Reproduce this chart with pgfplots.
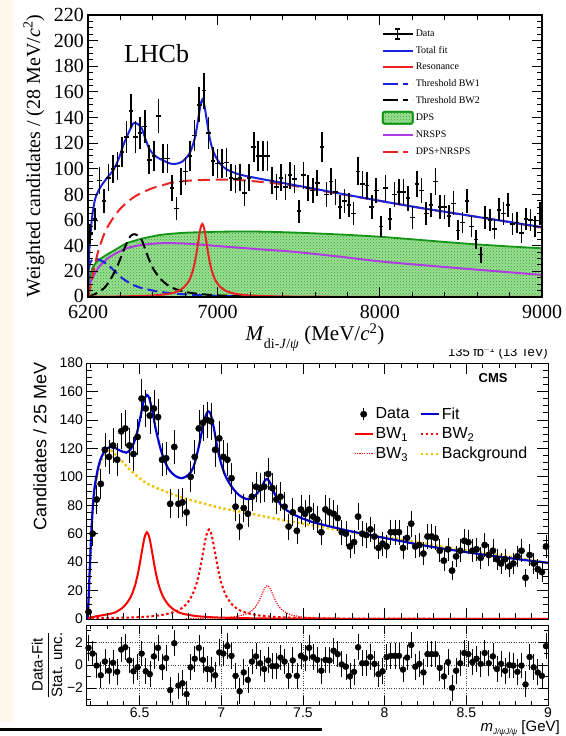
\documentclass[border=0pt]{standalone}
\usepackage{fontspec}
\setmainfont{Liberation Serif}
\newfontfamily\cms{Liberation Sans}
\usepackage{pgfplots}
\pgfplotsset{compat=1.18}
\usepackage{pgfplotstable}
\usetikzlibrary{patterns}
\definecolor{lblue}{RGB}{25,35,225}
\definecolor{lred}{RGB}{235,35,35}
\definecolor{lmag}{RGB}{175,60,225}
\definecolor{dpsline}{RGB}{20,150,20}
\definecolor{dpsfill}{RGB}{155,222,148}
\definecolor{dpsdot}{RGB}{45,165,45}
\definecolor{cblue}{RGB}{0,0,215}
\definecolor{cred}{RGB}{250,0,0}
\definecolor{cyel}{RGB}{240,195,0}
\definecolor{cream}{RGB}{253,248,234}

\pgfplotstableread{
x y e
6214 49 7.7
6242 61 8.6
6270 91 10.5
6298 75 9.5
6326 93 10.6
6354 100 11.0
6382 102 11.1
6410 113 11.7
6438 125 12.3
6466 145 13.2
6494 125 12.3
6522 128 12.4
6550 133 12.7
6578 107 11.4
6606 110 11.5
6634 141 13.1
6662 108 11.4
6690 108 11.4
6718 85 10.1
6746 69 9.1
6774 90 10.4
6802 98 10.9
6830 110 11.5
6858 126 12.3
6886 150 13.5
6914 161 14.0
6942 128 12.4
6970 106 11.3
6998 104 11.2
7026 104 11.2
7054 105 11.3
7082 93 10.6
7110 92 10.6
7138 93 10.6
7166 81 9.9
7194 93 10.6
7222 117 11.9
7250 110 11.5
7278 110 11.5
7306 110 11.5
7334 91 10.5
7362 86 10.2
7390 93 10.6
7418 86 10.2
7446 95 10.7
7474 92 10.6
7502 67 9.0
7530 95 10.7
7558 85 10.1
7586 83 10.0
7614 89 10.4
7642 117 11.9
7670 80 9.8
7698 90 10.4
7726 82 10.0
7754 70 9.2
7782 75 9.5
7810 72 9.3
7838 65 8.9
7866 98 10.9
7894 88 10.3
7922 87 10.3
7950 70 9.2
7978 83 10.0
8006 55 8.2
8034 85 10.1
8062 61 8.6
8090 80 9.8
8118 82 10.0
8146 82 10.0
8174 77 9.7
8202 62 8.7
8230 88 10.3
8258 83 10.0
8286 65 8.9
8314 72 9.3
8342 90 10.4
8370 70 9.2
8398 70 9.2
8426 63 8.7
8454 73 9.4
8482 52 7.9
8510 58 8.4
8538 75 9.5
8566 55 8.2
8594 45 7.4
8622 33 6.3
8650 62 8.7
8678 60 8.5
8706 53 8.0
8734 68 9.1
8762 65 8.9
8790 72 9.3
8818 57 8.3
8846 58 8.4
8874 50 7.8
8902 61 8.6
8930 60 8.5
8958 55 8.2
8986 65 8.9
}\lhcbdata

\pgfplotstableread{
x y
6200 0
6204 8
6212 16
6225 22
6250 27
6290 31
6336 34.5
6390 38.5
6439 42
6490 44
6541 45.8
6644 48.4
6747 49.7
6850 50.4
7055 51
7261 51
7465 50.3
7750 48.8
8000 47
8250 44.5
8494 42
8750 39.8
9000 38
}\dps

\pgfplotstableread{
x y e r
6.1875 5 2.2 1.5
6.2125 60 7.7 1.0
6.2375 84 9.2 -0.05
6.2625 95 9.7 -0.9
6.2875 119 10.9 0.3
6.3125 114 10.7 -0.5
6.3375 122 11.0 0.2
6.3625 112 10.6 -0.6
6.3875 132 11.5 1.35
6.4125 134 11.6 1.55
6.4375 122 11.0 0.4
6.4625 116 10.8 -0.55
6.4875 128 11.3 -0.2
6.5125 155 12.4 1.0
6.5375 148 12.2 -0.55
6.5625 143 12.0 -0.8
6.5875 148 12.2 0.75
6.6125 142 11.9 1.5
6.6375 112 10.6 -0.2
6.6625 113 10.6 0.6
6.6875 81 9.0 -2.2
6.7125 121 11.0 1.9
6.7375 81 9.0 -1.8
6.7625 82 9.1 -1.6
6.7875 75 8.7 -2.55
6.8125 100 10.0 -0.2
6.8375 114 10.7 0.55
6.8625 134 11.6 1.5
6.8875 138 11.7 0.45
6.9125 140 11.8 -0.35
6.9375 139 11.8 -0.4
6.9625 119 10.9 -0.9
6.9875 127 11.3 1.1
7.0125 114 10.7 1.0
7.0375 112 10.6 1.65
7.0625 99 9.9 0.8
7.0875 79 8.9 -0.95
7.1125 65 8.1 -2.3
7.1375 78 8.8 -0.65
7.1625 74 8.6 -1.3
7.1875 86 9.3 0.3
7.2125 93 9.6 0.75
7.2375 92 9.6 0.15
7.2625 93 9.6 -0.35
7.2875 102 10.1 0.4
7.3125 92 9.6 -0.1
7.3375 84 9.2 -0.1
7.3625 86 9.3 0.65
7.3875 79 8.9 0.3
7.4125 65 8.1 -0.95
7.4375 75 8.7 0.4
7.4625 62 7.9 -0.95
7.4875 77 8.8 0.8
7.5125 74 8.6 0.6
7.5375 77 8.8 1.5
7.5625 72 8.5 0.7
7.5875 70 8.4 0.45
7.6125 61 7.8 -0.5
7.6375 77 8.8 0.45
7.6625 75 8.7 0.4
7.6875 74 8.6 1.25
7.7125 71 8.4 0.95
7.7375 61 7.8 0.05
7.7625 60 7.7 -0.15
7.7875 51 7.1 -1.0
7.8125 54 7.3 -0.6
7.8375 72 8.5 1.55
7.8625 60 7.7 0.15
7.8875 59 7.7 0.15
7.9125 63 7.9 0.7
7.9375 58 7.6 0.1
7.9625 50 7.1 -0.8
7.9875 53 7.3 -0.55
8.0125 51 7.1 0.7
8.0375 61 7.8 0.8
8.0625 61 7.8 0.8
8.0875 61 7.8 0.8
8.1125 50 7.1 -0.4
8.1375 57 7.5 0.65
8.1625 67 8.2 1.75
8.1875 51 7.1 -0.15
8.2125 52 7.2 0.1
8.2375 46 6.8 -0.65
8.2625 58 7.6 0.95
8.2875 58 7.6 0.95
8.3125 57 7.5 0.95
8.3375 48 6.9 -0.25
8.3625 41 6.4 -1.0
8.3875 49 7.0 0.25
8.4125 34 5.8 -2.0
8.4375 44 6.6 -0.5
8.4625 48 6.9 0.15
8.4875 55 7.4 1.05
8.5125 54 7.3 0.95
8.5375 48 6.9 0.25
8.5625 49 7.0 0.55
8.5875 43 6.6 0.1
8.6125 52 7.2 1.05
8.6375 45 6.7 0.15
8.6625 48 6.9 0.75
8.6875 42 6.5 -0.35
8.7125 39 6.2 0.1
8.7375 42 6.5 -0.5
8.7625 37 6.1 0.0
8.7875 39 6.2 -0.05
8.8125 44 6.6 -0.6
8.8375 48 6.9 -0.05
8.8625 29 5.4 -1.7
8.8875 45 6.7 0.7
8.9125 39 6.2 -0.2
8.9375 35 5.9 -0.65
8.9625 33 5.7 -0.95
8.9875 51 7.1 1.65
}\cmsdata

\begin{document}
\begin{tikzpicture}
\fill[white] (0,0) rectangle (565pt,736pt);
\useasboundingbox (0,0) rectangle (565pt,736pt);
\fill[cream] (0,14pt) rectangle (13pt,736pt);
\fill[black] (0,5pt) rectangle (322pt,8pt);

% ---------------- LHCb ----------------
\begin{axis}[
  at={(88pt,439pt)}, anchor=south west, scale only axis,
  width=454pt, height=282pt,
  xmin=6200, xmax=9000, ymin=0, ymax=220,
  axis on top, tick align=inside, tick pos=both,
  major tick length=10pt, minor tick length=5pt,
  every tick/.style={black, line width=1pt},
  axis line style={line width=1.3pt},
  xtick={6200,7000,8000,9000}, xticklabels={6200,7000,8000,9000},
  minor xtick={6400,6600,6800,7200,7400,7600,7800,8200,8400,8600,8800},
  ytick={0,20,...,220}, yticklabels={\raisebox{3pt}{0},20,40,60,80,100,120,140,160,180,200,220},
  minor y tick num=3,
  tick label style={font=\fontsize{20}{20}\selectfont},
  xticklabel style={inner sep=1pt, yshift=-7pt},
  yticklabel style={inner sep=1pt, xshift=-3pt},
  xlabel={\textit{M}\raisebox{-0.35em}{\fontsize{14}{14}\selectfont di-\textit{J}/\textit{ψ}} (MeV/\textit{c}\textsuperscript{2})},
  xlabel style={at={(axis description cs:0.5,-0.156)}, anchor=base, inner sep=0pt, font=\fontsize{21}{21}\selectfont},
  ylabel={Weighted candidates / (28 MeV/\textit{c}\textsuperscript{2})},
  ylabel style={at={(axis description cs:-0.119,0.5)}, anchor=center, inner sep=0pt, font=\fontsize{20}{20}\selectfont},
  legend style={at={(axis description cs:0.64,0.962)}, anchor=north west, draw=none, fill=none,
     font=\fontsize{10}{10}\selectfont, row sep=4.3pt},
  legend cell align=left,
  legend image code/.code={\draw[#1] (0pt,0pt) -- (30pt,0pt);},
]
\addlegendimage{legend image code/.code={\draw[black,line width=1.2pt] (0pt,0pt)--(30pt,0pt) (15pt,-5pt)--(15pt,5pt) (12.5pt,-5pt)--(17.5pt,-5pt) (12.5pt,5pt)--(17.5pt,5pt);}}
\addlegendentry{Data}
\addlegendimage{lblue, line width=2pt}
\addlegendentry{Total fit}
\addlegendimage{lred, line width=2pt}
\addlegendentry{Resonance}
\addlegendimage{lblue, line width=2pt, dash pattern=on 15pt off 5pt on 5pt off 5pt}
\addlegendentry{Threshold BW1}
\addlegendimage{black, line width=2pt, dash pattern=on 15pt off 5pt on 5pt off 5pt}
\addlegendentry{Threshold BW2}
\addlegendimage{legend image code/.code={\draw[dpsline, line width=1.8pt, fill=dpsfill, postaction={pattern=crosshatch dots, pattern color=dpsdot}, rounded corners=2pt] (0pt,-6pt) rectangle (30pt,6pt);}}
\addlegendentry{DPS}
\addlegendimage{lmag, line width=2pt}
\addlegendentry{NRSPS}
\addlegendimage{lred, line width=2pt, dash pattern=on 15pt off 5pt on 5pt off 5pt}
\addlegendentry{DPS+NRSPS}

\addplot[draw=none, fill=dpsfill, postaction={pattern=crosshatch dots, pattern color=dpsdot}, forget plot] table[x=x,y=y] {\dps} \closedcycle;
\addplot[dpsline, line width=1.8pt, smooth, forget plot] table[x=x,y=y] {\dps};
\addplot[lmag, line width=2pt, smooth, forget plot] coordinates {
(6200,5) (6210,10) (6223,13.5) (6254,21) (6290,26.5) (6336,31.4) (6390,35.2) (6439,38) (6490,39.7) (6541,40.8) (6644,41.9) (6750,41.9) (6850,41.3) (7055,39.2) (7261,37.2) (7466,35.3) (7750,31.5) (8000,27.8) (8250,25) (8494,22.4) (8750,19.8) (9000,17.2)};
\addplot[lblue, line width=2pt, smooth, dash pattern=on 10pt off 5pt, forget plot] coordinates {
(6200,10) (6205,21) (6215,27) (6233,29.5) (6260,29.5) (6300,27) (6336,23.6) (6370,19.5) (6397,16) (6440,12.2) (6479,9.4) (6530,7) (6582,5.5) (6640,4) (6706,3) (6780,2.2) (6850,1.7) (6950,1.1) (7050,0.7) (7200,0.3) (7400,0.1)};
\addplot[black, line width=2pt, smooth, dash pattern=on 10pt off 5pt, forget plot] coordinates {
(6200,0) (6254,3) (6300,7) (6336,13.3) (6370,21) (6397,29) (6420,36.5) (6439,42) (6462,47.5) (6484,49) (6505,48) (6531,44.5) (6555,36.5) (6582,27.5) (6610,20.5) (6644,14.6) (6685,9.8) (6726,6.8) (6790,4.3) (6850,2.9) (6952,1.6) (7050,1.0) (7200,0.5)};
\addplot[lred, line width=2pt, smooth, forget plot] coordinates {
(6200,0.2) (6405,0.44) (6605,1.2) (6705,2.6) (6755,4.5) (6795,7.9) (6825,13.2) (6845,19.9) (6861,28.5) (6875,38.9) (6885,47.2) (6895,54.2) (6905,57) (6915,54.2) (6925,47.2) (6935,38.9) (6949,28.5) (6965,19.9) (6985,13.2) (7015,7.9) (7055,4.5) (7105,2.6) (7205,1.2) (7405,0.44) (7905,0.11) (9000,0.03)};
\addplot[lred, line width=2pt, smooth, dash pattern=on 12pt off 6pt, forget plot] coordinates {
(6200,0) (6210,5) (6230,18) (6255,32) (6290,46) (6322,55) (6380,66) (6433,73) (6490,78.5) (6544,82) (6600,85) (6655,87) (6710,89) (6766,90) (6850,91) (6990,91.5) (7100,91.5) (7250,90) (7400,88) (7550,85) (7700,81.5) (8000,75) (8250,69.5) (8500,64.5) (8750,59.5) (9000,54)};
\addplot[lblue, line width=2pt, smooth, forget plot] coordinates {
(6200,0) (6203,18) (6207,32) (6212,44) (6225,62) (6243,76) (6265,83) (6294,89) (6325,94) (6356,99) (6390,108) (6418,118.5) (6450,128) (6480,135.5) (6505,135) (6531,131.6) (6555,123) (6582,114.7) (6620,109.5) (6664,106.5) (6710,104) (6747,104) (6780,105.5) (6809,109) (6830,113) (6845,118) (6861,125) (6875,135) (6885,143) (6895,150.5) (6905,154) (6915,151) (6925,144) (6935,136) (6949,125) (6965,116.5) (6985,110) (7015,104) (7055,99.5) (7137,95.5) (7250,92.5) (7400,89) (7550,85.5) (7700,82) (8000,75) (8250,69.5) (8500,64.5) (8750,59.5) (9000,54.5)};
\addplot[draw=none, mark=none, line width=1.6pt, forget plot,
  error bars/.cd, x dir=both, x fixed=14, y dir=both, y explicit, error mark=none,
  error bar style={draw=black, line width=1.6pt}] table[x=x, y=y, y error=e] {\lhcbdata};
\node[font=\fontsize{26}{26}\selectfont, anchor=base west, inner sep=0pt] at (axis description cs:0.079,0.833) {LHCb};
\end{axis}

% ---------------- CMS main ----------------
\begin{axis}[
  at={(86.5pt,117pt)}, anchor=south west, scale only axis,
  width=461.5pt, height=256pt,
  xmin=6.175, xmax=9.0, ymin=0, ymax=180,
  axis on top, tick align=inside, tick pos=both,
  major tick length=11pt, minor tick length=5.5pt,
  every tick/.style={black, line width=0.7pt},
  axis line style={line width=0.9pt},
  xtick={6.5,7,7.5,8,8.5,9}, xticklabels={},
  minor xtick={6.2,6.3,6.4,6.6,6.7,6.8,6.9,7.1,7.2,7.3,7.4,7.6,7.7,7.8,7.9,8.1,8.2,8.3,8.4,8.6,8.7,8.8,8.9},
  ytick={0,20,...,180}, yticklabels={0,20,40,60,80,100,120,140,160,180},
  minor y tick num=3,
  tick label style={font=\cms\fontsize{14}{14}\selectfont},
  ylabel={Candidates / 25 MeV},
  ylabel style={at={(axis description cs:-0.1008,0.674)}, anchor=center, inner sep=0pt, font=\cms\fontsize{18}{18}\selectfont},
  legend columns=2,
  legend style={at={(axis description cs:0.572,0.842)}, anchor=north west, draw=none, fill=none,
     font=\cms\fontsize{16}{16}\selectfont, row sep=3pt, /tikz/every even column/.append style={column sep=8pt}},
  legend cell align=left,
  legend image code/.code={\draw[#1] (0pt,0pt) -- (18pt,0pt);},
]
\addlegendimage{legend image code/.code={\draw[black, line width=0.7pt] (9pt,-6pt)--(9pt,6pt); \fill[black] (9pt,0pt) circle (3.2pt);}}
\addlegendentry{Data}
\addlegendimage{cblue, line width=2.2pt}
\addlegendentry{Fit}
\addlegendimage{cred, line width=2pt}
\addlegendentry{BW\textsubscript{1}}
\addlegendimage{cred, line width=2pt, dash pattern=on 2.5pt off 2.5pt}
\addlegendentry{BW\textsubscript{2}}
\addlegendimage{cred, line width=1.1pt, dash pattern=on 1.2pt off 1.2pt}
\addlegendentry{BW\textsubscript{3}}
\addlegendimage{cyel, line width=2.4pt, dash pattern=on 2.5pt off 2.5pt}
\addlegendentry{Background}

\addplot[cyel, line width=2.4pt, smooth, dash pattern=on 2.5pt off 2.5pt, forget plot] coordinates {
(6.175,0) (6.185,5) (6.195,30) (6.205,60) (6.22,85) (6.24,100) (6.26,110) (6.28,115) (6.30,118) (6.32,119) (6.35,116) (6.40,110) (6.44,105) (6.5,99) (6.55,95) (6.65,90) (6.77,85) (6.9,81) (7.0,78) (7.18,74) (7.4,69) (7.6,65) (7.85,60) (8.1,56) (8.4,50) (8.7,45) (9.0,39.5)};
\addplot[cred, line width=2pt, smooth, forget plot] coordinates {
(6.175,0) (6.19,0.8) (6.245,2.1) (6.345,4.4) (6.405,8.9) (6.445,15.4) (6.47,22.8) (6.487,30.5) (6.5,38.1) (6.515,48.1) (6.53,57.2) (6.545,61) (6.56,57.2) (6.575,48.1) (6.59,38.1) (6.603,30.5) (6.62,22.8) (6.645,15.4) (6.685,8.9) (6.745,4.4) (6.845,2.1) (6.995,0.98) (7.245,0.41) (7.545,0.2) (9.0,0.05)};
\addplot[cred, line width=2pt, smooth, dash pattern=on 2.5pt off 2.5pt, forget plot] coordinates {
(6.175,0) (6.225,0.49) (6.475,1.17) (6.625,2.6) (6.725,5.5) (6.78,9.7) (6.82,16.3) (6.845,23.6) (6.863,31.5) (6.88,41.3) (6.895,51.1) (6.91,59.5) (6.925,63) (6.94,59.5) (6.955,51.1) (6.97,41.3) (6.987,31.5) (7.005,23.6) (7.03,16.3) (7.07,9.7) (7.125,5.5) (7.225,2.6) (7.375,1.17) (7.625,0.49) (7.925,0.24) (9.0,0.08)};
\addplot[cred, line width=1.1pt, smooth, dash pattern=on 1.2pt off 1.2pt, forget plot] coordinates {
(6.782,0.28) (6.982,0.76) (7.082,1.65) (7.142,3.1) (7.182,5.5) (7.207,8.2) (7.227,11.75) (7.237,14.1) (7.252,18.1) (7.267,21.9) (7.282,23.5) (7.297,21.9) (7.312,18.1) (7.327,14.1) (7.337,11.75) (7.357,8.2) (7.382,5.5) (7.422,3.1) (7.482,1.65) (7.582,0.76) (7.782,0.28) (9.0,0.05)};
\addplot[cblue, line width=2.2pt, smooth, forget plot] coordinates {
(6.175,0) (6.185,8) (6.195,35) (6.205,62) (6.22,88) (6.24,103) (6.26,112) (6.28,117) (6.30,120) (6.32,121) (6.34,121) (6.37,119) (6.40,117.5) (6.42,117) (6.45,120) (6.48,129) (6.505,142) (6.525,153) (6.545,157.5) (6.56,155) (6.58,145) (6.60,133) (6.625,121) (6.65,112) (6.68,105) (6.72,100.5) (6.76,99) (6.80,101.5) (6.83,107) (6.86,120) (6.885,134) (6.905,143) (6.92,146) (6.935,144) (6.955,134) (6.975,121) (7.00,109) (7.03,99.5) (7.07,92) (7.11,87) (7.15,84.5) (7.18,84.5) (7.21,87) (7.24,91.5) (7.265,97) (7.282,98.5) (7.30,95.5) (7.325,88.5) (7.36,81) (7.40,76.5) (7.47,72) (7.55,68.5) (7.65,65.5) (7.8,61.5) (8.0,57) (8.25,51.5) (8.5,47) (8.75,43) (9.0,39.5)};
\addplot[black, only marks, mark=*, mark size=3.2pt, forget plot,
  error bars/.cd, y dir=both, y explicit, error mark options={black, mark size=1.5pt, line width=0.6pt},
  error bar style={line width=0.6pt, black}] table[x=x, y=y, y error=e] {\cmsdata};
\node[font=\cms\bfseries\fontsize{13}{13}\selectfont] at (axis description cs:0.881,0.941) {CMS};
\end{axis}

% ---------------- CMS ratio ----------------
\begin{axis}[
  at={(86.5pt,31pt)}, anchor=south west, scale only axis,
  width=461.5pt, height=80pt,
  xmin=6.175, xmax=9.0, ymin=-3.5, ymax=3.5,
  tick align=inside, tick pos=both,
  major tick length=9pt, minor tick length=4.5pt,
  every tick/.style={black, line width=0.7pt},
  axis line style={line width=0.9pt},
  xtick={6.5,7,7.5,8,8.5,9}, xticklabels={6.5,7,7.5,8,8.5,9},
  minor xtick={6.2,6.3,6.4,6.6,6.7,6.8,6.9,7.1,7.2,7.3,7.4,7.6,7.7,7.8,7.9,8.1,8.2,8.3,8.4,8.6,8.7,8.8,8.9},
  ytick={-2,0,2}, yticklabels={−2,0,2}, minor ytick={-3,-1,1,3},
  grid=major, major grid style={dotted, black!75, line width=0.6pt},
  tick label style={font=\cms\fontsize{14}{14}\selectfont},
  xticklabel style={inner sep=1pt, yshift=-2pt},
  xlabel={\textit{m}\raisebox{-0.2em}{\fontsize{8}{8}\selectfont\textit{J/ψJ/ψ}} [GeV]},
  xlabel style={at={(axis description cs:1.026,-0.33)}, anchor=base east, inner sep=0pt, font=\cms\fontsize{15}{15}\selectfont},
  ylabel={$\displaystyle\frac{\hbox{Data-Fit}}{\hbox{Stat. unc.}}$},
  ylabel style={at={(axis description cs:-0.0856,0.5)}, anchor=center, inner sep=0pt, font=\cms\fontsize{15}{15}\selectfont},
]
\addplot[black, only marks, mark=*, mark size=3pt,
  error bars/.cd, y dir=both, y fixed=1, error mark options={black, mark size=1.5pt, line width=0.6pt},
  error bar style={line width=0.6pt, black}] table[x=x, y=r] {\cmsdata};
\end{axis}

\begin{scope}
\clip (400pt,0pt) rectangle (565pt,386pt);
\node[font=\cms\fontsize{13}{13}\selectfont, anchor=base east, inner sep=0pt] at (548pt,379pt) {135 fb\textsuperscript{−1} (13 TeV)};
\end{scope}
\end{tikzpicture}
\end{document}
